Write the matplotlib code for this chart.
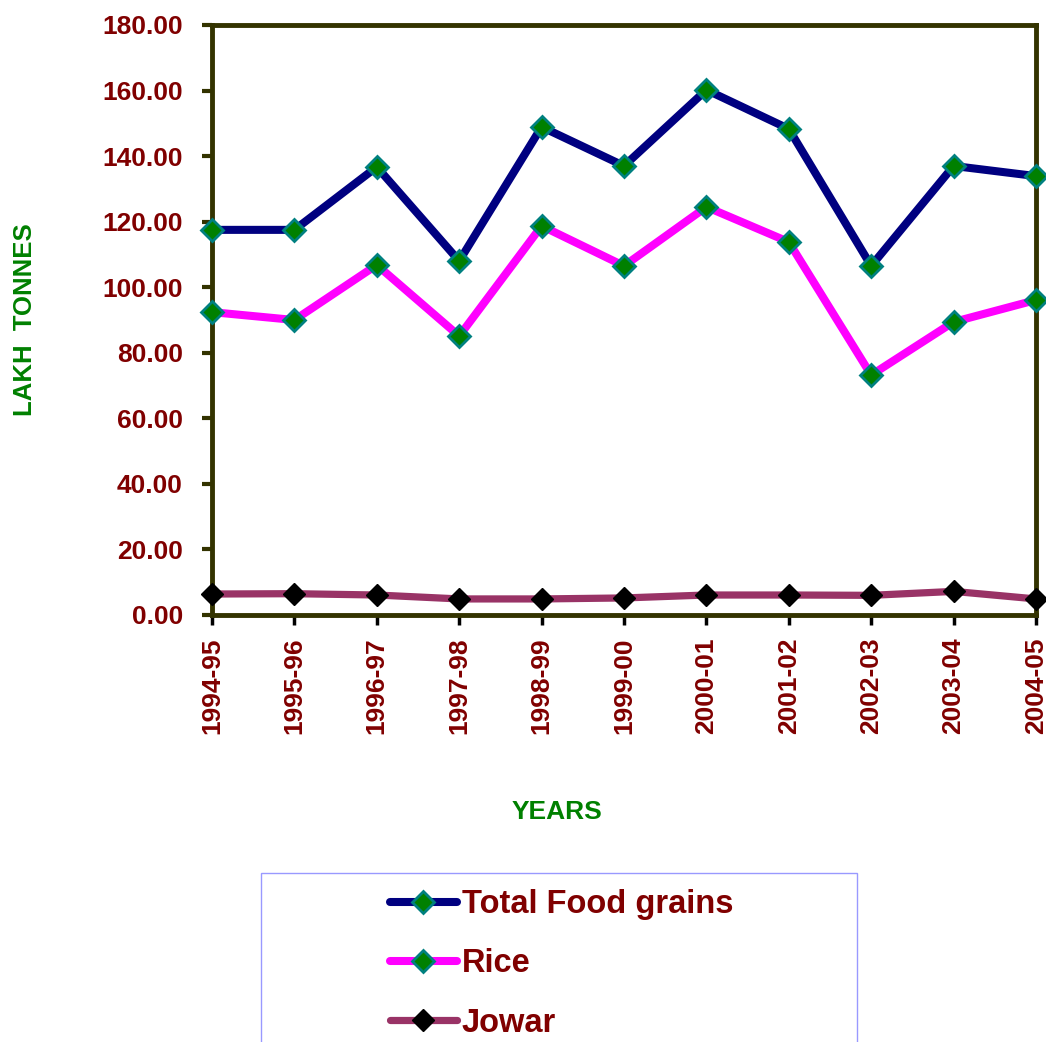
import matplotlib
matplotlib.use("Agg")
import matplotlib.pyplot as plt
from matplotlib.patches import Rectangle

years = ["1994-95", "1995-96", "1996-97", "1997-98", "1998-99", "1999-00",
         "2000-01", "2001-02", "2002-03", "2003-04", "2004-05"]
total_food = [117.5, 117.5, 136.7, 108.0, 148.9, 137.0, 160.2, 148.3, 106.5, 137.0, 133.9]
rice = [92.4, 90.0, 106.8, 85.1, 118.7, 106.5, 124.5, 113.8, 73.2, 89.4, 96.1]
jowar = [6.4, 6.5, 6.1, 4.9, 4.9, 5.2, 6.1, 6.1, 6.0, 7.2, 4.9]

plt.rcParams['font.family'] = ['Liberation Sans', 'DejaVu Sans']
plt.rcParams['font.weight'] = 'bold'

W, H = 1046, 1042
fig = plt.figure(figsize=(W / 100, H / 100), dpi=100)
ax = fig.add_axes([212 / W, 1 - 615 / H, 824 / W, 590 / H])

x = list(range(len(years)))
ax.plot(x, total_food, color="#000080", lw=5.8, marker="D", ms=11,
        mfc="#008000", mec="#008080", mew=2, clip_on=False, zorder=3,
        solid_capstyle="round", label="Total Food grains")
ax.plot(x, rice, color="#ff00ff", lw=5.8, marker="D", ms=11,
        mfc="#008000", mec="#008080", mew=2, clip_on=False, zorder=3,
        solid_capstyle="round", label="Rice")
ax.plot(x, jowar, color="#993366", lw=5.2, marker="D", ms=11,
        mfc="black", mec="black", mew=1, clip_on=False, zorder=3,
        solid_capstyle="round", label="Jowar")

ax.set_xlim(0, len(years) - 1)
ax.set_ylim(0, 180)
ax.set_yticks(range(0, 181, 20))
ax.set_yticklabels([f"{v:.2f}" for v in range(0, 181, 20)])
ax.set_xticks(x)
ax.set_xticklabels(years, rotation=90)

for s in ax.spines.values():
    s.set_color("#333300")
    s.set_linewidth(3.5)

ax.tick_params(axis="y", length=7, width=3, color="#333300", pad=14,
               labelsize=19, labelcolor="#800000")
ax.tick_params(axis="x", length=7, width=2.5, color="black", pad=9,
               labelsize=19, labelcolor="#800000")

ax.set_ylabel("LAKH  TONNES", color="#008000", fontsize=18.5, fontweight="bold")
ax.yaxis.set_label_coords(-0.212, 0.5)
ax.set_xlabel("YEARS", color="#008000", fontsize=19, fontweight="bold")
ax.xaxis.set_label_coords(0.419, -0.334)
ax.xaxis.label.set_va("center")

# legend frame (extends past the bottom of the image)
fig.patches.append(Rectangle((261 / W, -0.05), 596 / W, 1 - 873 / H + 0.05,
                             transform=fig.transFigure, fill=False,
                             edgecolor="#9999ff", lw=1))

leg = fig.legend(loc="upper left", bbox_to_anchor=(390 / W, 1 - 889 / H),
                 frameon=False, fontsize=23.5, handlelength=2.05,
                 handletextpad=0.15, labelspacing=0.87, numpoints=1,
                 borderaxespad=0, borderpad=0)
for t in leg.get_texts():
    t.set_color("#800000")
    t.set_fontweight("bold")

fig.savefig("out.png", dpi=100)
